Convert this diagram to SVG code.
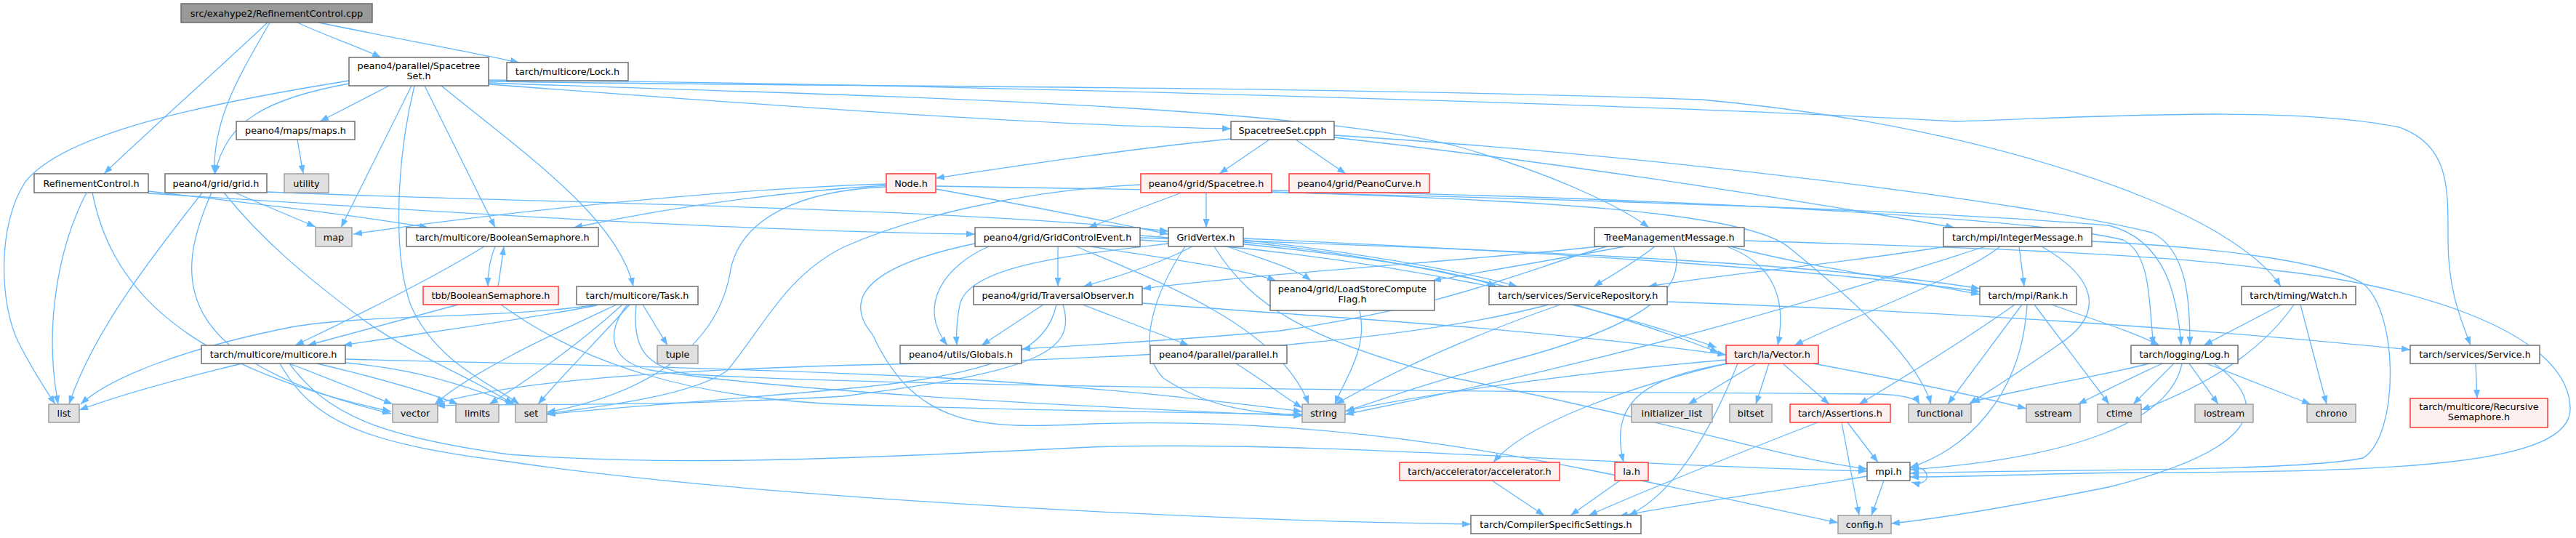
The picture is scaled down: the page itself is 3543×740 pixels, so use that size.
<svg xmlns="http://www.w3.org/2000/svg" width="3543" height="740" viewBox="0 0 3543 740">
<defs>
<style>
.n rect{fill:#ffffff;stroke:#666666;stroke-width:1.4}
.r rect{fill:#999999;stroke:#666666;stroke-width:1.4}
.x rect{fill:#e0e0e0;stroke:#999999;stroke-width:1.4}
.t rect{fill:#fff0f0;stroke:#ff2a2a;stroke-width:1.4}
text{font-family:"DejaVu Sans","Liberation Sans",sans-serif;font-size:12.8px;fill:#000000;text-anchor:middle}
#edges path{fill:none;stroke:#63b8ff;stroke-width:1.3;marker-end:url(#ah)}
</style>
<marker id="ah" viewBox="0 0 12 9" refX="12" refY="4.5" markerWidth="12" markerHeight="9" markerUnits="userSpaceOnUse" orient="auto"><path d="M0,0 L12,4.5 L0,9 z" fill="#63b8ff"/></marker>
</defs>
<rect x="0" y="0" width="3543" height="740" fill="#ffffff"/>
<g id="edges">
<path d="M368,31 C300,95 210,175 143,239"/>
<path d="M371,31 C335,95 292,160 295,239"/>
<path d="M409,31 C445,48 490,63 524,79"/>
<path d="M438,31 C540,52 640,70 714,86"/>
<path d="M480,111 C300,140 90,180 35,250 C-5,310 0,420 25,470 C45,510 62,535 76,556"/>
<path d="M480,115 C370,135 310,165 296,239"/>
<path d="M535,118 L440,167"/>
<path d="M566,118 L469,313"/>
<path d="M570,118 C545,220 540,350 565,420 C600,500 680,530 714,556"/>
<path d="M584,118 L681,313"/>
<path d="M607,118 C720,210 850,300 871,394"/>
<path d="M672,116 C1000,140 1400,172 1693,177"/>
<path d="M672,114 C1100,130 1750,140 2000,200 C2140,240 2230,285 2268,313"/>
<path d="M672,112 C1200,120 1800,118 2340,137 C2700,170 2950,260 3050,320 C3100,350 3125,375 3137,394"/>
<path d="M672,110 C1300,115 2300,145 2690,167 C2900,160 3150,145 3300,175 C3370,200 3367,260 3367,330 C3367,400 3385,440 3398,475"/>
<path d="M409,192 L417,239"/>
<path d="M119,265 C80,340 60,450 80,556"/>
<path d="M127,265 C150,380 230,500 538,566"/>
<path d="M204,263 C350,280 480,295 589,313"/>
<path d="M204,266 C500,285 1000,318 1341,322"/>
<path d="M278,265 C220,340 130,450 95,556"/>
<path d="M291,265 C240,380 230,495 538,569"/>
<path d="M323,265 L434,312"/>
<path d="M308,265 C360,330 420,380 500,440 C570,490 650,520 706,556"/>
<path d="M367,264 C700,278 1300,285 1607,318"/>
<path d="M666,339 C600,380 480,440 406,475"/>
<path d="M681,339 C672,360 671,380 671,394"/>
<path d="M685,394 C688,375 690,360 693,339"/>
<path d="M630,419 C550,440 480,460 423,475"/>
<path d="M689,419 C800,500 950,550 1180,557 C1450,565 1650,568 1791,570"/>
<path d="M821,419 C700,438 500,432 400,450 C250,480 150,520 111,556"/>
<path d="M821,420 C720,440 600,455 472,475"/>
<path d="M848,419 C760,460 650,510 598,556"/>
<path d="M856,419 C800,470 730,520 673,556"/>
<path d="M866,419 C820,470 770,520 740,556"/>
<path d="M884,419 L918,475"/>
<path d="M863,419 C830,460 840,500 900,510 C1100,540 1500,560 1791,572"/>
<path d="M875,419 C870,470 880,505 950,515 C1300,535 2300,540 2580,542 C2620,543 2636,548 2640,556"/>
<path d="M333,500 C250,520 160,545 109,564"/>
<path d="M398,500 C450,520 500,540 540,556"/>
<path d="M436,500 C520,520 590,540 630,556"/>
<path d="M475,499 C540,505 600,515 708,556"/>
<path d="M475,494 C700,500 1000,505 1300,520 C1550,535 1700,555 1791,566"/>
<path d="M385,500 C430,580 500,610 700,635 C1000,680 1600,715 2023,721"/>
<path d="M398,500 C450,570 520,600 700,625 C900,640 1100,635 1500,615 C1800,605 2200,640 2568,648"/>
<path d="M1219,253 C1000,260 700,290 486,322"/>
<path d="M1219,255 C1050,265 900,290 789,313"/>
<path d="M1219,257 C1100,262 1020,300 1005,370 C990,470 900,540 752,567"/>
<path d="M1287,260 C1400,280 1500,300 1607,322"/>
<path d="M1287,256 C1900,265 2600,285 2900,310 C2980,330 2995,410 3000,475"/>
<path d="M1625,265 L1497,313"/>
<path d="M1659,265 L1659,313"/>
<path d="M1569,254 C1400,262 1250,300 1160,340 C1080,380 1050,450 1000,510 C950,545 820,560 752,569"/>
<path d="M1749,262 C2300,272 2800,300 2920,330 C2960,350 2955,420 2962,475"/>
<path d="M1749,264 C2100,275 2400,290 2460,340 C2560,420 2640,500 2656,556"/>
<path d="M1693,191 C1550,205 1400,228 1287,245"/>
<path d="M1746,192 L1677,239"/>
<path d="M1782,192 L1851,239"/>
<path d="M1835,189 C2200,230 2500,280 2688,313"/>
<path d="M1835,186 C2300,215 2800,280 2960,320 C3010,345 3012,420 3012,475"/>
<path d="M1455,339 L1455,394"/>
<path d="M1360,339 C1300,365 1260,420 1303,475"/>
<path d="M1568,330 C1900,350 2200,420 2361,478"/>
<path d="M1568,327 C2000,340 2500,360 2723,397"/>
<path d="M1568,324 C1800,340 2000,370 2058,394"/>
<path d="M1500,339 C1600,355 1710,370 1755,386"/>
<path d="M1480,339 C1600,390 1760,450 1800,556"/>
<path d="M1341,335 C1220,360 1150,400 1200,460 C1260,590 1350,590 1500,583 C1900,570 2200,650 2528,719"/>
<path d="M1607,335 C1480,350 1330,365 1320,420 C1315,445 1315,460 1316,475"/>
<path d="M1640,339 C1600,360 1540,380 1490,394"/>
<path d="M1688,339 C1730,355 1780,368 1803,386"/>
<path d="M1710,330 C1850,345 2000,370 2087,394"/>
<path d="M1710,328 C2100,345 2500,370 2723,401"/>
<path d="M1710,333 C2000,360 2250,440 2364,485"/>
<path d="M1630,339 C1590,400 1560,480 1600,520 C1660,560 1720,568 1791,571"/>
<path d="M1670,339 C1720,420 1800,470 2000,520 C2300,580 2450,630 2568,645"/>
<path d="M2200,339 C2000,360 1750,375 1571,397"/>
<path d="M2235,339 C2150,355 2050,372 1970,386"/>
<path d="M2276,339 C2250,360 2215,380 2192,394"/>
<path d="M2210,339 C2100,370 2000,420 1760,455 C1600,470 1480,475 1405,480"/>
<path d="M2302,339 C2320,390 2280,440 2100,490 C1950,530 1900,550 1850,566"/>
<path d="M2380,339 C2500,370 2650,390 2723,405"/>
<path d="M2375,339 C2430,360 2460,400 2445,475"/>
<path d="M2399,331 C2700,340 3000,350 3130,372 C3300,390 3530,450 3535,560 C3540,640 3300,650 2920,650 C2800,652 2700,656 2627,656"/>
<path d="M2877,332 C3050,340 3200,360 3250,390 C3300,430 3300,600 3250,630 C3150,650 2800,645 2627,651"/>
<path d="M2676,339 C2550,360 2350,380 2267,394"/>
<path d="M2731,339 C2600,380 2300,480 1850,570"/>
<path d="M2751,339 C2700,380 2560,430 2468,475"/>
<path d="M2777,339 L2784,394"/>
<path d="M2808,339 C2880,380 2900,430 2830,475 C2780,510 2740,535 2708,556"/>
<path d="M1435,419 L1350,475"/>
<path d="M1489,419 L1635,475"/>
<path d="M1453,419 C1440,480 1380,515 1160,535 C1000,550 850,560 752,570"/>
<path d="M1462,419 C1480,480 1440,510 1160,545 C900,560 700,555 600,558"/>
<path d="M1571,417 C1800,435 2100,450 2374,488"/>
<path d="M2146,419 C2000,470 1900,520 1837,556"/>
<path d="M2130,419 C1900,480 1500,495 1180,502 C900,510 700,525 598,556"/>
<path d="M2293,415 C2700,430 3000,450 3315,481"/>
<path d="M2771,419 C2700,470 2600,530 2557,556"/>
<path d="M2781,419 L2679,556"/>
<path d="M2788,419 C2780,550 2700,620 2627,643"/>
<path d="M2798,419 L2901,556"/>
<path d="M2822,419 C2880,440 2930,455 2970,475"/>
<path d="M3138,419 L3031,475"/>
<path d="M3155,419 C3120,470 3060,520 2945,564"/>
<path d="M3164,419 L3200,556"/>
<path d="M2956,500 C2900,515 2780,535 2711,553"/>
<path d="M2974,500 C2930,520 2890,540 2858,556"/>
<path d="M2990,500 L2934,556"/>
<path d="M3011,500 L3051,556"/>
<path d="M3035,500 L3178,556"/>
<path d="M3001,500 C2985,580 2850,630 2627,646"/>
<path d="M3045,500 C3130,560 3100,620 2900,670 C2750,700 2650,715 2601,720"/>
<path d="M3405,500 L3407,548"/>
<path d="M2374,495 C2200,510 2000,535 1851,565"/>
<path d="M2415,500 L2322,556"/>
<path d="M2433,500 L2415,556"/>
<path d="M2452,500 L2516,556"/>
<path d="M2494,500 C2600,520 2720,545 2787,562"/>
<path d="M2374,500 C2250,530 2100,580 2054,636"/>
<path d="M2378,500 C2250,520 2215,560 2233,636"/>
<path d="M2390,500 C2350,600 2300,680 2240,709"/>
<path d="M2500,581 C2400,620 2250,680 2185,709"/>
<path d="M2568,655 C2450,675 2300,695 2227,710"/>
<path d="M2541,581 L2583,636"/>
<path d="M2533,581 L2557,709"/>
<path d="M2591,661 L2574,709"/>
<path d="M2627,644 C2655,636 2660,672 2629,663"/>
<path d="M2052,661 L2124,709"/>
<path d="M2228,661 L2160,709"/>
<path d="M1870,427 C1882,480 1850,520 1836,556"/>
<path d="M1700,500 C1740,525 1765,545 1791,561"/>
</g>
<g id="n0" class="r"><rect x="249" y="5" width="263" height="26"/><text x="380.5" y="22.5">src/exahype2/RefinementControl.cpp</text></g>
<g id="n1" class="n"><rect x="480" y="79" width="192" height="39"/><text x="576" y="95">peano4/parallel/Spacetree</text><text x="576" y="109">Set.h</text></g>
<g id="n2" class="n"><rect x="697" y="86" width="167" height="25"/><text x="780.5" y="103">tarch/multicore/Lock.h</text></g>
<g id="n3" class="n"><rect x="325" y="167" width="163" height="25"/><text x="406.5" y="184">peano4/maps/maps.h</text></g>
<g id="n4" class="n"><rect x="1693" y="167" width="142" height="25"/><text x="1764" y="184">SpacetreeSet.cpph</text></g>
<g id="n5" class="x"><rect x="391" y="239" width="61" height="26"/><text x="421.5" y="256.5">utility</text></g>
<g id="n6" class="n"><rect x="47" y="239" width="157" height="26"/><text x="125.5" y="256.5">RefinementControl.h</text></g>
<g id="n7" class="n"><rect x="227" y="239" width="140" height="26"/><text x="297" y="256.5">peano4/grid/grid.h</text></g>
<g id="n8" class="t"><rect x="1219" y="239" width="68" height="26"/><text x="1253" y="256.5">Node.h</text></g>
<g id="n9" class="t"><rect x="1569" y="239" width="180" height="26"/><text x="1659" y="256.5">peano4/grid/Spacetree.h</text></g>
<g id="n10" class="t"><rect x="1773" y="239" width="193" height="26"/><text x="1869.5" y="256.5">peano4/grid/PeanoCurve.h</text></g>
<g id="n11" class="x"><rect x="434" y="313" width="50" height="26"/><text x="459" y="330.5">map</text></g>
<g id="n12" class="n"><rect x="559" y="313" width="264" height="26"/><text x="691" y="330.5">tarch/multicore/BooleanSemaphore.h</text></g>
<g id="n13" class="n"><rect x="1341" y="313" width="227" height="26"/><text x="1454.5" y="330.5">peano4/grid/GridControlEvent.h</text></g>
<g id="n14" class="n"><rect x="1607" y="313" width="103" height="26"/><text x="1658.5" y="330.5">GridVertex.h</text></g>
<g id="n15" class="n"><rect x="2193" y="313" width="206" height="26"/><text x="2296" y="330.5">TreeManagementMessage.h</text></g>
<g id="n16" class="n"><rect x="2673" y="313" width="204" height="26"/><text x="2775" y="330.5">tarch/mpi/IntegerMessage.h</text></g>
<g id="n17" class="t"><rect x="582" y="394" width="186" height="25"/><text x="675" y="411">tbb/BooleanSemaphore.h</text></g>
<g id="n18" class="n"><rect x="793" y="394" width="167" height="25"/><text x="876.5" y="411">tarch/multicore/Task.h</text></g>
<g id="n19" class="n"><rect x="1339" y="394" width="232" height="25"/><text x="1455" y="411">peano4/grid/TraversalObserver.h</text></g>
<g id="n20" class="n"><rect x="1747" y="386" width="226" height="41"/><text x="1860" y="402">peano4/grid/LoadStoreCompute</text><text x="1860" y="416">Flag.h</text></g>
<g id="n21" class="n"><rect x="2048" y="394" width="245" height="25"/><text x="2170.5" y="411">tarch/services/ServiceRepository.h</text></g>
<g id="n22" class="n"><rect x="2723" y="394" width="133" height="25"/><text x="2789.5" y="411">tarch/mpi/Rank.h</text></g>
<g id="n23" class="n"><rect x="3083" y="394" width="157" height="25"/><text x="3161.5" y="411">tarch/timing/Watch.h</text></g>
<g id="n24" class="n"><rect x="277" y="475" width="198" height="25"/><text x="376" y="492">tarch/multicore/multicore.h</text></g>
<g id="n25" class="x"><rect x="904" y="475" width="56" height="25"/><text x="932" y="492">tuple</text></g>
<g id="n26" class="n"><rect x="1238" y="475" width="167" height="25"/><text x="1321.5" y="492">peano4/utils/Globals.h</text></g>
<g id="n27" class="n"><rect x="1582" y="475" width="188" height="25"/><text x="1676" y="492">peano4/parallel/parallel.h</text></g>
<g id="n28" class="t"><rect x="2374" y="475" width="127" height="25"/><text x="2437.5" y="492">tarch/la/Vector.h</text></g>
<g id="n29" class="n"><rect x="2931" y="475" width="147" height="25"/><text x="3004.5" y="492">tarch/logging/Log.h</text></g>
<g id="n30" class="n"><rect x="3315" y="475" width="178" height="25"/><text x="3404" y="492">tarch/services/Service.h</text></g>
<g id="n31" class="x"><rect x="67" y="556" width="42" height="25"/><text x="88" y="573">list</text></g>
<g id="n32" class="x"><rect x="540" y="556" width="62" height="25"/><text x="571" y="573">vector</text></g>
<g id="n33" class="x"><rect x="627" y="556" width="59" height="25"/><text x="656.5" y="573">limits</text></g>
<g id="n34" class="x"><rect x="709" y="556" width="43" height="25"/><text x="730.5" y="573">set</text></g>
<g id="n35" class="x"><rect x="1791" y="556" width="59" height="25"/><text x="1820.5" y="573">string</text></g>
<g id="n36" class="x"><rect x="2244" y="556" width="111" height="25"/><text x="2299.5" y="573">initializer_list</text></g>
<g id="n37" class="x"><rect x="2379" y="556" width="58" height="25"/><text x="2408" y="573">bitset</text></g>
<g id="n38" class="t"><rect x="2462" y="556" width="138" height="25"/><text x="2531" y="573">tarch/Assertions.h</text></g>
<g id="n39" class="x"><rect x="2625" y="556" width="86" height="25"/><text x="2668" y="573">functional</text></g>
<g id="n40" class="x"><rect x="2787" y="556" width="74" height="25"/><text x="2824" y="573">sstream</text></g>
<g id="n41" class="x"><rect x="2885" y="556" width="60" height="25"/><text x="2915" y="573">ctime</text></g>
<g id="n42" class="x"><rect x="3019" y="556" width="80" height="25"/><text x="3059" y="573">iostream</text></g>
<g id="n43" class="x"><rect x="3173" y="556" width="67" height="25"/><text x="3206.5" y="573">chrono</text></g>
<g id="n44" class="t"><rect x="3315" y="548" width="189" height="40"/><text x="3409.5" y="564">tarch/multicore/Recursive</text><text x="3409.5" y="578">Semaphore.h</text></g>
<g id="n45" class="t"><rect x="1925" y="636" width="220" height="25"/><text x="2035" y="653">tarch/accelerator/accelerator.h</text></g>
<g id="n46" class="t"><rect x="2221" y="636" width="46" height="25"/><text x="2244" y="653">la.h</text></g>
<g id="n47" class="n"><rect x="2568" y="636" width="59" height="25"/><text x="2597.5" y="653">mpi.h</text></g>
<g id="n48" class="n"><rect x="2023" y="709" width="234" height="25"/><text x="2140" y="726">tarch/CompilerSpecificSettings.h</text></g>
<g id="n49" class="x"><rect x="2528" y="709" width="73" height="25"/><text x="2564.5" y="726">config.h</text></g>
</svg>
